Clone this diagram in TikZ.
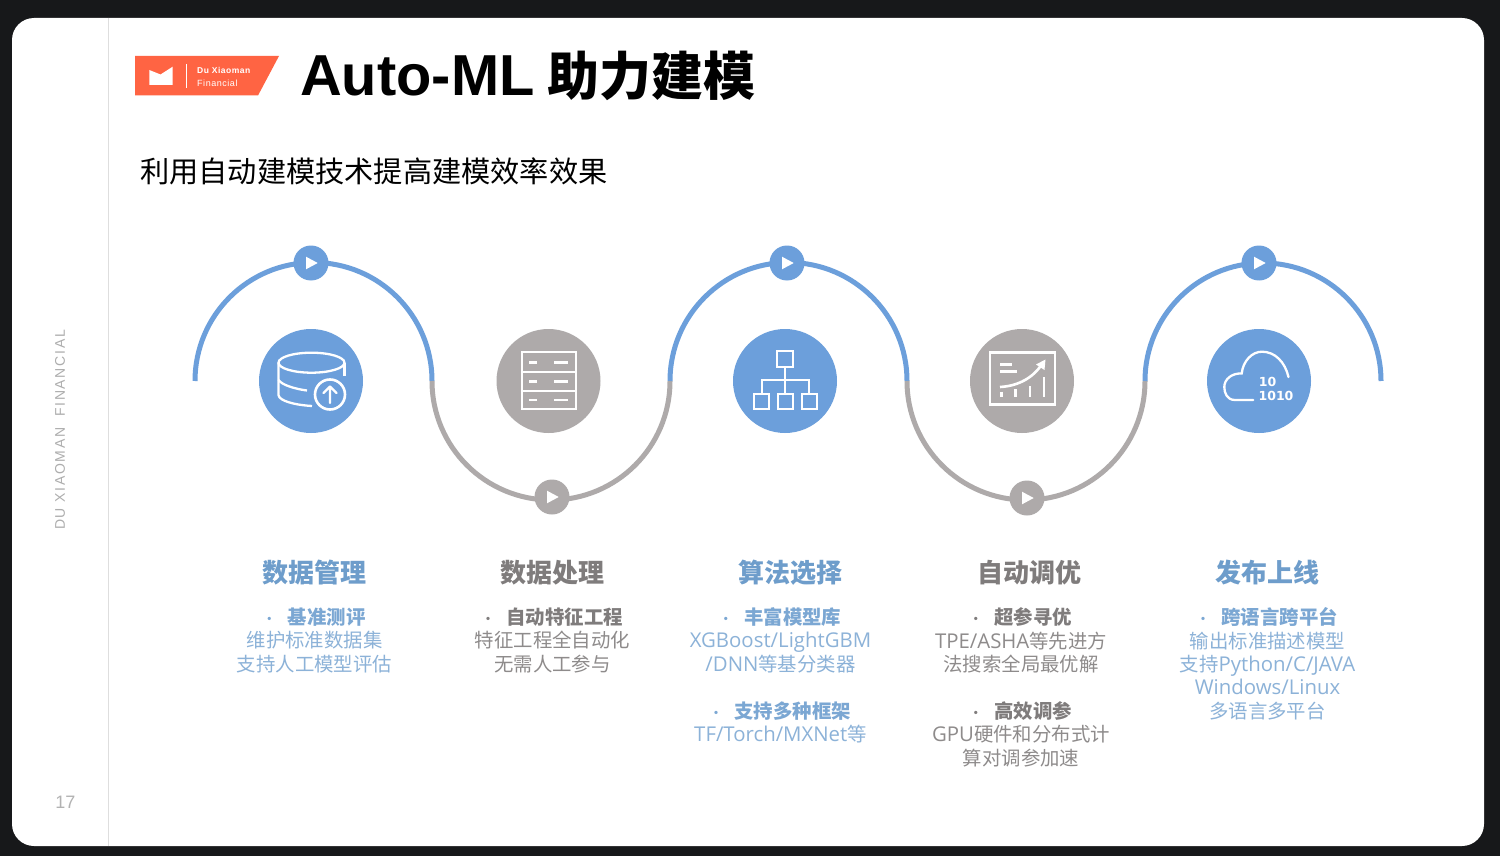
\documentclass[tikz,border=0pt]{standalone}
\usepackage{fontspec}
\setmainfont{Noto Sans CJK SC}
\newfontfamily\lat[Scale=1.05]{Open Sans}
\newfontfamily\arl{Liberation Sans}
\newfontfamily\dej{DejaVu Sans}
\newfontfamily\arlsp[LetterSpace=6]{Liberation Sans}
\newfontfamily\arlside[LetterSpace=12]{Liberation Sans}
\definecolor{bluearc}{HTML}{6C9FDB}
\definecolor{grayarc}{HTML}{AEAAAA}
\definecolor{bluehead}{HTML}{6E9DCB}
\definecolor{bluebody}{HTML}{8CB2D8}
\definecolor{bluesub}{HTML}{7BA7D3}
\definecolor{grayhead}{HTML}{7F7C7C}
\definecolor{graybody}{HTML}{8E8B8B}
\definecolor{logored}{HTML}{FF6443}
\definecolor{frame}{HTML}{17181A}
\newcommand\bdot{{\fontsize{12}{12}\selectfont\raisebox{1pt}{•}}\hspace{12.5pt}}
\newcommand\sub[1]{{\bfseries\bdot #1}}
\newcommand\la[1]{{\lat #1}}
\tikzset{
 arcblue/.style={draw=bluearc,line width=5pt},
 arcgray/.style={draw=grayarc,line width=5pt},
 playblue/.style={circle,fill=bluearc,minimum size=35pt,inner sep=0pt},
 playgray/.style={circle,fill=grayarc,minimum size=35pt,inner sep=0pt},
 iconblue/.style={circle,fill=bluearc,minimum size=104pt,inner sep=0pt},
 icongray/.style={circle,fill=grayarc,minimum size=104pt,inner sep=0pt},
 headtext/.style={font=\fontsize{26}{30}\selectfont\bfseries,inner sep=0pt},
 bodytext/.style={font=\fontsize{19.4}{23.4}\selectfont,align=center,anchor=north,inner sep=0pt},
 ic/.style={draw=white,line width=2.3pt,fill=none},
}
\newcommand\playmark[1]{\fill[white,shift={(#1)}] (-5,-6.3)--(-5,6.3)--(6.7,0)--cycle;}
\begin{document}
\begin{tikzpicture}[x=1pt,y=-1pt]
\useasboundingbox (0,0) rectangle (1500,856);
\fill[frame] (0,0) rectangle (1500,856);
\fill[white,rounded corners=22pt] (12,18) rectangle (1484,846);
\draw[draw=black!13,line width=1pt] (108.5,18) -- (108.5,846);
% logo
\fill[logored] (135,56) -- (279,56) -- (258,95.5) -- (135,95.5) -- cycle;
\fill[white] (149.3,70) -- (160.5,74.5) -- (172.7,66.7) -- (172.7,85) -- (149.3,85) -- cycle;
\draw[white,line width=1pt] (186,64) -- (186,88);
\node[anchor=west,inner sep=0pt,text=white,font=\arlsp\bfseries\fontsize{8.5}{9}\selectfont] (logoa) at (197,70) {Du Xiaoman};
\node[anchor=west,inner sep=0pt,text=white,font=\arlsp\fontsize{9}{9}\selectfont] (logob) at (197,83) {Financial};
% title
\node[anchor=west,inner sep=0pt,font=\fontsize{52}{56}\selectfont\bfseries] (title) at (300,76) {{\arl\fontsize{57.8}{60}\selectfont Auto-ML}\hspace{1.5pt} 助力建模};
\node[anchor=west,inner sep=0pt,font=\fontsize{29.2}{32}\selectfont] (subtitle) at (140,171) {利用自动建模技术提高建模效率效果};
% side
\node[rotate=90,inner sep=0pt,text=black!32,font=\arlside\fontsize{14}{14}\selectfont] (side) at (60,430) {DU XIAOMAN\ \ FINANCIAL};
\node[inner sep=0pt,text=black!30,font=\arl\fontsize{18}{18}\selectfont] (pageno) at (65.5,802) {17};
% arcs
\coordinate (j0) at (195,381);
\coordinate (j1) at (432,381);
\coordinate (j2) at (670,381);
\coordinate (j3) at (907,381);
\coordinate (j4) at (1145,381);
\draw[arcblue] (j0) arc[start angle=180,end angle=0,radius=118.5pt];
\draw[arcgray] (j1) arc[start angle=180,end angle=360,radius=119pt];
\draw[arcblue] (j2) arc[start angle=180,end angle=0,radius=118.5pt];
\draw[arcgray] (j3) arc[start angle=180,end angle=360,radius=119pt];
\draw[arcblue] (j4) arc[start angle=180,end angle=0,radius=118pt];
% play markers
\node[playblue] (p1) at (311,263) {};
\node[playgray] (p2) at (552,497) {};
\node[playblue] (p3) at (787,263) {};
\node[playgray] (p4) at (1027,498) {};
\node[playblue] (p5) at (1259,263) {};
\playmark{p1}\playmark{p2}\playmark{p3}\playmark{p4}\playmark{p5}
% icon discs
\node[iconblue] (c1) at (311,381) {};
\node[icongray] (c2) at (548.5,381) {};
\node[iconblue] (c3) at (785,381) {};
\node[icongray] (c4) at (1022,381) {};
\node[iconblue] (c5) at (1259,381) {};
% icon 1: database
\draw[ic] (311.5,362.7) ellipse[x radius=33pt,y radius=10pt];
\draw[ic] (278.5,362.7) -- (278.5,395) .. controls (279,401) and (295,405) .. (312,406);
\draw[ic] (278.5,380) .. controls (282,385) and (295,389) .. (307,390.5);
\draw[ic] (344.5,363) -- (344.5,376);
\draw[ic,line width=2.6pt] (330,394.5) circle[radius=15pt];
\draw[ic,line cap=round,line join=round] (330,403) -- (330,387) (323.5,393) -- (330,386.5) -- (336.5,393);
% icon 2: cabinet
\draw[ic] (521.7,352) rectangle (575.7,409);
\draw[ic] (521.7,371.7) -- (575.7,371.7) (521.7,390.7) -- (575.7,390.7);
\foreach \yy in {362.7,381.3,399.8}{
 \draw[ic,line width=2.6pt] (529,\yy) -- (537,\yy) (554,\yy) -- (568,\yy);
}
% icon 3: hierarchy
\draw[ic,line width=2pt] (777.3,351) rectangle (793.3,366.7);
\draw[ic,line width=2pt] (754,393.5) rectangle (769,409);
\draw[ic,line width=2pt] (777.5,393.5) rectangle (793,409);
\draw[ic,line width=2pt] (801.5,393.5) rectangle (817,409);
\draw[ic,line width=2pt] (785.3,366.7) -- (785.3,393.5) (761.5,393.5) -- (761.5,380) -- (809.3,380) -- (809.3,393.5);
% icon 4: chart
\draw[ic,line width=2.8pt] (990,352.7) rectangle (1055,404.3);
\draw[ic,line width=2.6pt] (1000,364.3) -- (1011.7,364.3) (1000,371.7) -- (1016.7,371.7);
\draw[ic,line width=2.6pt] (1000,387) .. controls (1018,386) and (1033,378) .. (1042,364);
\fill[white] (1045.5,359.5) -- (1044.5,370) -- (1036,364.5) -- cycle;
\draw[ic,line width=2.6pt] (1001.7,391.7) -- (1001.7,397.3) (1015.7,389.3) -- (1015.7,397.3) (1030,386) -- (1030,397.3) (1044,377.3) -- (1044,397.3);
% icon 5: cloud
\draw[ic,line cap=round] (1253.3,400) -- (1235,400) .. controls (1227,400) and (1224.3,393) .. (1224.3,387)
 .. controls (1224.3,379) and (1232,373) .. (1241.7,373.5)
 .. controls (1243,361) and (1252,351.7) .. (1262,351.7)
 .. controls (1275,351.7) and (1285,362) .. (1288.5,377);
\node[inner sep=0pt,text=white,font=\dej\bfseries\fontsize{12.5}{13}\selectfont] (ten) at (1267.5,382) {10};
\node[inner sep=0pt,text=white,font=\dej\bfseries\fontsize{12.5}{13}\selectfont] (tenten) at (1276,396) {1010};
% headings
\node[headtext,text=bluehead] (h1) at (314.5,573) {数据管理};
\node[headtext,text=grayhead] (h2) at (552.5,573) {数据处理};
\node[headtext,text=bluehead] (h3) at (790.5,573) {算法选择};
\node[headtext,text=grayhead] (h4) at (1029,573) {自动调优};
\node[headtext,text=bluehead] (h5) at (1267,573) {发布上线};
% bodies
\node[bodytext,text=bluebody] (b1) at (314.5,607.5) {\textcolor{bluesub}{\sub{基准测评}}\\维护标准数据集\\支持人工模型评估};
\node[bodytext,text=graybody] (b2) at (552.5,607.5) {\textcolor{grayhead}{\sub{自动特征工程}}\\特征工程全自动化\\无需人工参与};
\node[bodytext,text=bluebody] (b3) at (780.5,607.5) {\textcolor{bluesub}{\sub{丰富模型库}}\\\la{XGBoost/LightGBM}\\\la{/DNN}等基分类器\\[23.4pt]\textcolor{bluesub}{\sub{支持多种框架}}\\\la{TF/Torch/MXNet}等};
\node[bodytext,text=graybody] (b4) at (1021,607.5) {\textcolor{grayhead}{\sub{超参寻优}}\\\la{TPE/ASHA}等先进方\\法搜索全局最优解\\[23.4pt]\textcolor{grayhead}{\sub{高效调参}}\\\la{GPU}硬件和分布式计\\算对调参加速};
\node[bodytext,text=bluebody] (b5) at (1267.5,607.5) {\textcolor{bluesub}{\sub{跨语言跨平台}}\\输出标准描述模型\\支持\la{Python/C/JAVA}\\\la{Windows/Linux}\\多语言多平台};
\end{tikzpicture}
\end{document}
